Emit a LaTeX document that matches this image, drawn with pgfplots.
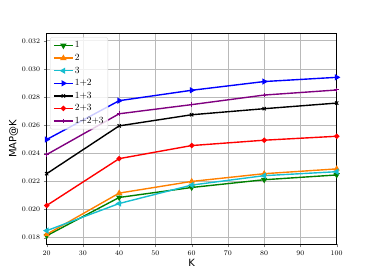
\documentclass[border=0pt]{standalone}
\usepackage{pgfplots}
\pgfplotsset{compat=1.18}
\usepackage{fontspec}
\newfontfamily\dejavu{DejaVu Sans}
\begin{document}
\begin{tikzpicture}
\useasboundingbox (0,0) rectangle (374bp,280bp);
\begin{axis}[
  at={(46.7bp,35.7bp)}, anchor=south west,
  scale only axis, width=290bp, height=211bp,
  xmin=20, xmax=100, ymin=0.01753, ymax=0.03253,
  xtick={20,30,...,100},
  ytick={0.018,0.020,...,0.0325},
  yticklabel style={/pgf/number format/.cd,fixed,precision=3,zerofill},
  scaled y ticks=false,
  tick label style={font=\fontsize{7}{8}\selectfont},
  tick align=outside, tick pos=left,
  major tick length=3bp,
  grid=major,
  major grid style={gray!55, line width=0.6pt},
  axis line style={black, line width=0.8pt},
  xlabel={\dejavu K}, ylabel={\dejavu MAP@K},
  label style={font=\fontsize{10}{11}\selectfont},
  xlabel style={yshift=3bp},
  ylabel style={yshift=-3bp},
  every axis plot/.append style={line width=1.4pt},
  legend cell align=left,
  legend style={at={(0,1)}, anchor=north west, xshift=3.3bp, yshift=-4bp,
    draw=gray!30, rounded corners=2pt, fill=white, fill opacity=0.8, text opacity=1,
    font=\fontsize{9.5}{10}\selectfont, row sep=2.4pt, inner sep=3pt,
    nodes={inner sep=1.2pt}},
  legend image code/.code={\draw[#1] (0cm,0cm) -- (0.67cm,0cm); \draw[#1, mark repeat=1] plot coordinates {(0.335cm,0cm)};},
]
\addplot[green!50!black, mark=triangle*, mark options={rotate=180}, mark size=2.3pt] coordinates {(20,0.01814) (40,0.02086) (60,0.02157) (80,0.02212) (100,0.02246)};
\addlegendentry{1}
\addplot[orange, mark=triangle*, mark size=2.3pt] coordinates {(20,0.01824) (40,0.02117) (60,0.02200) (80,0.02255) (100,0.02289)};
\addlegendentry{2}
\addplot[color={rgb,255:red,23;green,190;blue,207}, mark=triangle*, mark options={rotate=90}, mark size=2.3pt] coordinates {(20,0.01850) (40,0.02043) (60,0.02174) (80,0.02241) (100,0.02269)};
\addlegendentry{3}
\addplot[blue, mark=triangle*, mark options={rotate=-90}, mark size=2.3pt] coordinates {(20,0.02498) (40,0.02774) (60,0.02848) (80,0.02910) (100,0.02940)};
\addlegendentry{1+2}
\addplot[black, mark=x, mark size=2.3pt, mark options={line width=1pt}] coordinates {(20,0.02255) (40,0.02595) (60,0.02674) (80,0.02717) (100,0.02757)};
\addlegendentry{1+3}
\addplot[red, mark=*, mark size=1.9pt] coordinates {(20,0.02029) (40,0.02362) (60,0.02455) (80,0.02493) (100,0.02521)};
\addlegendentry{2+3}
\addplot[color={rgb,255:red,128;green,0;blue,128}, mark=+, mark size=2.3pt, mark options={line width=1pt}] coordinates {(20,0.02391) (40,0.02681) (60,0.02746) (80,0.02814) (100,0.02850)};
\addlegendentry{1+2+3}
\end{axis}
\end{tikzpicture}
\end{document}
